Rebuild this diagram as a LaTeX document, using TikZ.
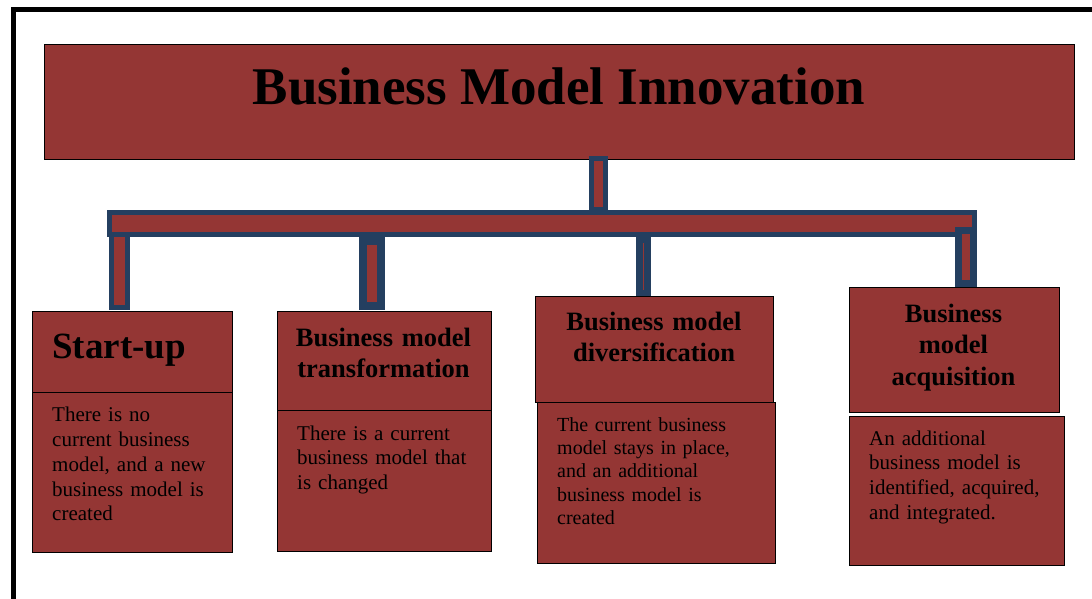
\documentclass[tikz,border=0pt]{standalone}
\usepackage{fontspec}
\setmainfont{Liberation Serif}
\definecolor{bmred}{HTML}{943634}
\definecolor{bmblue}{HTML}{243F60}
\tikzset{
  box/.style={draw=black, line width=1pt, fill=bmred, inner sep=0pt, anchor=north west},
  bar/.style={draw=bmblue, fill=bmred},
  bodytxt/.style={inner sep=0pt, anchor=base west, text width=240pt, align=left,
     font=\fontsize{21}{24.8}\selectfont},
  headtxt/.style={inner sep=0pt, anchor=base, text width=240pt, align=center,
     font=\fontsize{26.5}{31.5}\selectfont\bfseries},
}
\begin{document}
\begin{tikzpicture}[x=1pt,y=-1pt]
\clip (0,0) rectangle (1092,599);
\fill[white] (0,0) rectangle (1092,599);
% outer frame
\draw[line width=5pt] (13,620) -- (13,9.5) -- (1120,9.5);
% title box
\node[box, minimum width=1030pt, minimum height=115pt] (title) at (44,44) {};
\node[inner sep=0pt, anchor=base, font=\fontsize{53}{60}\selectfont\bfseries] (titletxt) at (559,105) {Business Model Innovation};
% header boxes
\node[box, minimum width=200pt, minimum height=81pt] (h1) at (32,311) {};
\node[box, minimum width=200pt, minimum height=160pt] (b1) at (32,392) {};
\node[box, minimum width=214pt, minimum height=99pt] (h2) at (277,311) {};
\node[box, minimum width=214pt, minimum height=141pt] (b2) at (277,410) {};
\node[box, minimum width=238pt, minimum height=106pt] (h3) at (535,296) {};
\node[box, minimum width=238pt, minimum height=161pt] (b3) at (537,402) {};
\node[box, minimum width=210pt, minimum height=125pt] (h4) at (849,287) {};
\node[box, minimum width=215pt, minimum height=149pt] (b4) at (849,416) {};
% connectors
\coordinate (ts1) at (591.5,158.5);
\coordinate (ts2) at (605.5,209.5);
\draw[bar, line width=5pt] (ts1) rectangle (ts2);
\coordinate (hb1) at (109.5,212.5);
\coordinate (hb2) at (974.5,234.5);
\draw[bar, line width=5pt] (hb1) rectangle (hb2);
\draw[bar, line width=5pt] (111.5,234.5) rectangle (127.5,307.5);
\draw[bar, line width=7.5pt] (363,241) rectangle (381,306);
\draw[bar, line width=6.5pt] (639.5,240) rectangle (647.5,293);
\draw[bar, line width=6.5pt] (958.5,230.5) rectangle (973.5,283.5);
% header texts
\node[inner sep=0pt, anchor=base west, font=\fontsize{37}{42}\selectfont\bfseries] (t1) at (52,358) {Start-up};
\node[headtxt] (t2) at (383.5,346) {Business model\\transformation};
\node[headtxt] (t3) at (654,330) {Business model\\diversification};
\node[headtxt] (t4) at (953.5,322) {Business\\model\\acquisition};
% body texts
\node[bodytxt] (d1) at (52,421.7) {There is no\\current business\\model, and a new\\business model is\\created};
\node[bodytxt] (d2) at (297,440) {There is a current\\business model that\\is changed};
\node[bodytxt, font=\fontsize{20}{23.1}\selectfont] (d3) at (557,431.7) {The current business\\model stays in place,\\and an additional\\business model is\\created};
\node[bodytxt] (d4) at (869,445) {An additional\\business model is\\identified, acquired,\\and integrated.};
\end{tikzpicture}
\end{document}
